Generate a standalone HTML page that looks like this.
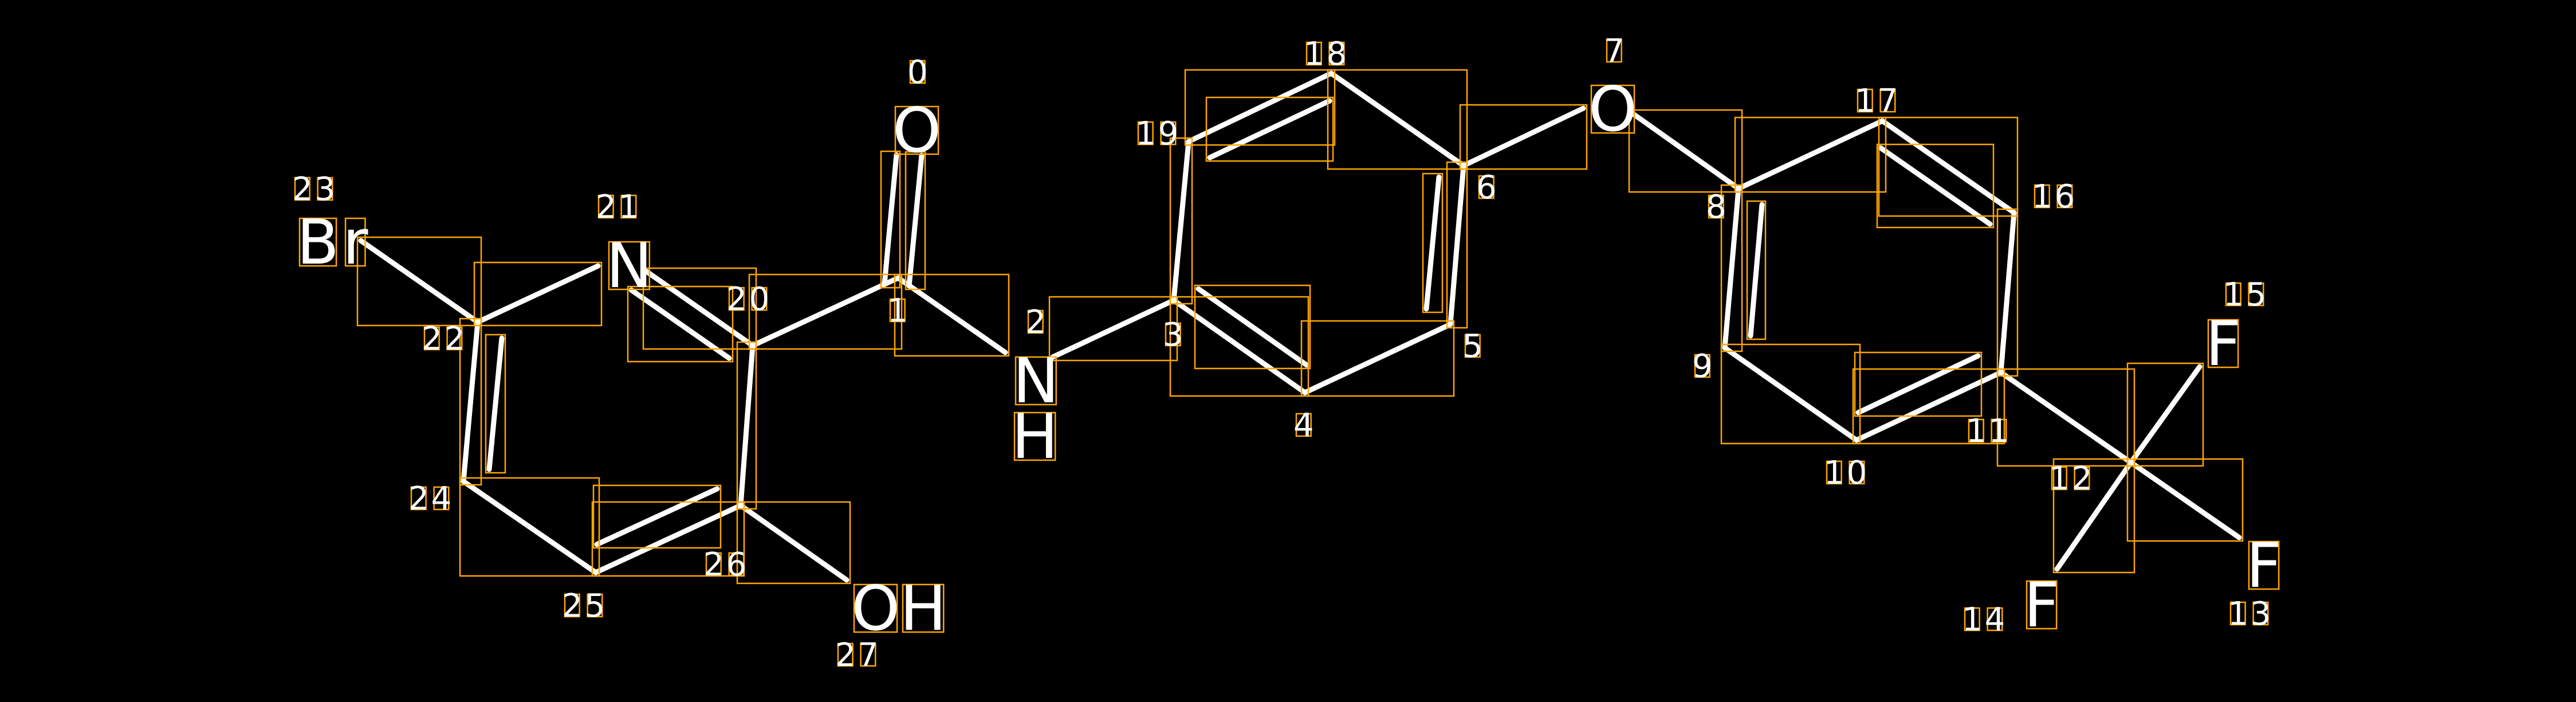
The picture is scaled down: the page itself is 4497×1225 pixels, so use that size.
<!DOCTYPE html>
<html><head><meta charset="utf-8">
<style>
html,body{margin:0;padding:0;background:#000;}
svg{display:block;}
.big{font-family:"DejaVu Sans","Liberation Sans",sans-serif;font-size:108px;fill:#fff;}
.sm{font-family:"DejaVu Sans","Liberation Sans",sans-serif;font-size:56px;fill:#fff;letter-spacing:4px;}
</style></head>
<body>
<svg id="s" width="4497" height="1225" viewBox="0 0 4497 1225" xmlns="http://www.w3.org/2000/svg">
<rect width="4497" height="1225" fill="#000"/>
<g id="bonds" stroke="#fff" stroke-width="9" stroke-linecap="round"></g>
<g id="boxes" fill="none" stroke="#FFA500" stroke-width="2.5"></g>
<g id="texts">
<text class="big" x="518" y="460" letter-spacing="6">Br</text>
<text class="big" x="1058" y="501">N</text>
<text class="big" x="1558" y="265">O</text>
<text class="big" x="1768" y="702">N</text>
<text class="big" x="1766" y="799">H</text>
<text class="big" x="1486" y="1099">OH</text>
<text class="big" x="2773" y="228">O</text>
<text class="big" x="3850" y="637">F</text>
<text class="big" x="3921" y="1024">F</text>
<text class="big" x="3533" y="1093">F</text>
<text class="sm" x="1584" y="145">0</text>
<text class="sm" x="1549" y="561">1</text>
<text class="sm" x="1790" y="581">2</text>
<text class="sm" x="2030" y="603">3</text>
<text class="sm" x="2258" y="761">4</text>
<text class="sm" x="2553" y="623">5</text>
<text class="sm" x="2577" y="346">6</text>
<text class="sm" x="2800" y="108">7</text>
<text class="sm" x="2978" y="380">8</text>
<text class="sm" x="2954" y="658">9</text>
<text class="sm" x="3184" y="844">10</text>
<text class="sm" x="3432" y="771">11</text>
<text class="sm" x="3577" y="854">12</text>
<text class="sm" x="3889" y="1090">13</text>
<text class="sm" x="3425" y="1100">14</text>
<text class="sm" x="3881" y="533">15</text>
<text class="sm" x="3547" y="362">16</text>
<text class="sm" x="3238" y="195">17</text>
<text class="sm" x="2276" y="113">18</text>
<text class="sm" x="1982" y="252">19</text>
<text class="sm" x="1268" y="541">20</text>
<text class="sm" x="1040" y="380">21</text>
<text class="sm" x="736" y="610">22</text>
<text class="sm" x="510" y="349">23</text>
<text class="sm" x="713" y="889">24</text>
<text class="sm" x="981" y="1076">25</text>
<text class="sm" x="1228" y="1004">26</text>
<text class="sm" x="1458" y="1162">27</text>
</g>
</svg>
<script>
var L=[
[630,420,834,562],[834,562,1044,464],[1129,474,1314,603],[1102,506,1273,625],
[1314,603,1568,485],[1544,496,1565,270],[1587,499,1609,271],[1568,485,1755,615],
[1314,603,1293,882],[834,562,809,840],[876,590,854,819],[809,840,1040,999],
[1040,999,1293,882],[1042,950,1252,853],[1293,882,1478,1012],
[1838,623,2049,524],[2049,524,2075,247],[2075,247,2324,128],[2112,275,2321,176],
[2324,128,2555,289],[2555,289,2764,189],[2850,198,3035,329],[2555,289,2532,566],
[2512,309,2490,539],[2532,566,2278,685],[2278,685,2049,524],[2092,504,2281,637],
[3035,329,3286,211],[3286,211,3516,371],[3283,258,3474,391],[3516,371,3493,650],
[3493,650,3241,768],[3244,720,3453,621],[3241,768,3011,607],[3011,607,3035,329],
[3056,586,3076,357],[3493,650,3720,807],[3720,807,3840,640],[3720,807,3909,938],
[3720,807,3591,993]];
var NS="http://www.w3.org/2000/svg",b=document.getElementById('bonds'),bx=document.getElementById('boxes');
function R(x,y,w,h){var r=document.createElementNS(NS,'rect');r.setAttribute('x',x);r.setAttribute('y',y);r.setAttribute('width',w);r.setAttribute('height',h);bx.appendChild(r);}
L.forEach(function(l){var e=document.createElementNS(NS,'line');e.setAttribute('x1',l[0]);e.setAttribute('y1',l[1]);e.setAttribute('x2',l[2]);e.setAttribute('y2',l[3]);b.appendChild(e);
var p=6,x=Math.min(l[0],l[2])-p,y=Math.min(l[1],l[3])-p;R(x,y,Math.abs(l[2]-l[0])+2*p,Math.abs(l[3]-l[1])+2*p);});
try{document.querySelectorAll('#texts text').forEach(function(t){var n=t.getNumberOfChars();var big=t.getAttribute('class')=='big';var ls=parseFloat(t.getAttribute('letter-spacing')||(big?0:4));for(var i=0;i<n;i++){var e=t.getExtentOfChar(i);var ix=5,iy=big?20:12;R(e.x+ix,e.y+iy,e.width-ls-2*ix,e.height-iy-(big?22:14));}});}catch(err){}
</script>
</body></html>
